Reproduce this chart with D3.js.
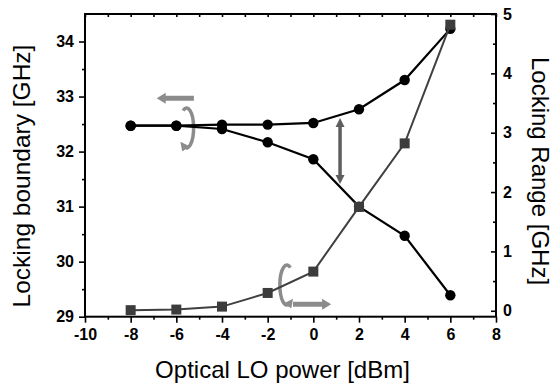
<!DOCTYPE html>
<html><head><meta charset="utf-8">
<script src="https://cdn.jsdelivr.net/npm/d3@7"></script>
<style>body{margin:0;background:#fff}svg{display:block}text{font-family:"Liberation Sans",Arial,sans-serif}</style>
</head><body><svg id="c" width="557" height="385"></svg>
<script>
const power = [-8, -6, -4, -2, 0, 2, 4, 6];
const upperBoundary = [32.47, 32.47, 32.49, 32.49, 32.52, 32.77, 33.30, 34.23];
const lowerBoundary = [32.47, 32.47, 32.41, 32.17, 31.86, 31.00, 30.47, 29.39];
const lockingRange = [0.01, 0.02, 0.07, 0.30, 0.66, 1.75, 2.82, 4.82];
const xTicks = [-10, -8, -6, -4, -2, 0, 2, 4, 6, 8];
const xMinor = [-9, -7, -5, -3, -1, 1, 3, 5, 7];
const yLeftTicks = [29, 30, 31, 32, 33, 34];
const yLeftMinor = [29.5, 30.5, 31.5, 32.5, 33.5];
const yRightTicks = [0, 1, 2, 3, 4, 5];
const yRightMinor = [0.5, 1.5, 2.5, 3.5, 4.5];
const xTitle = "Optical LO power [dBm]";
const yLeftTitle = "Locking boundary [GHz]";
const yRightTitle = "Locking Range [GHz]";

const svg = d3.select('#c');
const L = 85, R = 496, T = 14, B = 316.7;
const x = d3.scaleLinear().domain([-10, 8]).range([L, R]);
const yL = d3.scaleLinear().domain([29, 34.5]).range([B, T]);
const yR = d3.scaleLinear().domain([-0.1, 5]).range([B, T]);
const fmt = d => String(d);

function styleAxis(g) {
  g.attr('font-family', '"Liberation Sans", Arial, sans-serif').attr('font-size', 16).attr('font-weight', 'bold');
  g.select('.domain').remove();
  g.selectAll('.tick line').attr('stroke', '#000').attr('stroke-width', 1.6);
  g.selectAll('.tick text').attr('fill', '#000');
}
// bottom
svg.append('g').attr('transform', `translate(0,${B})`)
  .call(d3.axisBottom(x).tickValues(xTicks).tickSize(6).tickPadding(6).tickFormat(fmt)).call(styleAxis);
svg.append('g').attr('transform', `translate(0,${B})`)
  .call(d3.axisBottom(x).tickValues(xMinor).tickSize(3).tickFormat('')).call(styleAxis);
// top
svg.append('g').attr('transform', `translate(0,${T})`)
  .call(d3.axisTop(x).tickValues(xTicks.concat(xMinor)).tickSize(-3).tickFormat('')).call(styleAxis);
// left
svg.append('g').attr('transform', `translate(${L},0)`)
  .call(d3.axisLeft(yL).tickValues(yLeftTicks).tickSize(6).tickPadding(5).tickFormat(fmt)).call(styleAxis);
svg.append('g').attr('transform', `translate(${L},0)`)
  .call(d3.axisLeft(yL).tickValues(yLeftMinor).tickSize(3).tickFormat('')).call(styleAxis);
// right
svg.append('g').attr('transform', `translate(${R},0)`)
  .call(d3.axisRight(yR).tickValues(yRightTicks).tickSize(-5).tickPadding(7).tickFormat(fmt)).call(styleAxis);
svg.append('g').attr('transform', `translate(${R},0)`)
  .call(d3.axisRight(yR).tickValues(yRightMinor).tickSize(-3).tickFormat('')).call(styleAxis);

// frame
svg.append('rect').attr('x', L).attr('y', T).attr('width', R - L).attr('height', B - T)
  .attr('fill', 'none').attr('stroke', '#000').attr('stroke-width', 2);

// titles
svg.append('text').attr('x', (L + R) / 2 - 8).attr('y', 378).attr('text-anchor', 'middle')
  .attr('font-size', 24).text(xTitle);
svg.append('text').attr('transform', `translate(30,${176}) rotate(-90)`).attr('text-anchor', 'middle')
  .attr('font-size', 24.5).text(yLeftTitle);
svg.append('text').attr('transform', `translate(532,${171}) rotate(90)`).attr('text-anchor', 'middle')
  .attr('font-size', 24).text(yRightTitle);

// annotations (positions in data units)
const annoGrey = '#8c8c8c';
function arrowPath(x1, y1, x2, y2, w, hl, hw, both) {
  const dx = x2 - x1, dy = y2 - y1, len = Math.hypot(dx, dy);
  const ux = dx / len, uy = dy / len, px = -uy, py = ux;
  const s = both ? hl : 0, e = len - hl;
  const P = (t, o) => [x1 + ux * t + px * o, y1 + uy * t + py * o];
  const pts = [];
  if (both) { pts.push(P(0, 0), P(s, hw / 2), P(s, w / 2)); } else { pts.push(P(0, w / 2)); }
  pts.push(P(e, w / 2), P(e, hw / 2), P(len, 0), P(e, -hw / 2), P(e, -w / 2));
  if (both) { pts.push(P(s, -w / 2), P(s, -hw / 2)); } else { pts.push(P(0, -w / 2)); }
  return 'M' + pts.map(p => p.join(',')).join('L') + 'Z';
}
svg.append('path').attr('d', arrowPath(x(-5.23), yL(32.97), x(-6.86), yL(32.97), 5, 9, 11, false)).attr('fill', annoGrey);
svg.append('path').attr('d', arrowPath(x(-0.89), yR(0.109), x(0.78), yR(0.109), 5, 9, 11, false)).attr('fill', annoGrey);
svg.append('path').attr('d', arrowPath(x(1.17), yL(31.41), x(1.17), yL(32.61), 3.5, 9, 9, true)).attr('fill', '#5e5e5e');

// curled arrows
const defs = svg.append('defs');
defs.append('marker').attr('id', 'ch').attr('viewBox', '0 0 10 10').attr('refX', 4).attr('refY', 5)
  .attr('markerWidth', 9).attr('markerHeight', 9).attr('markerUnits', 'userSpaceOnUse').attr('orient', 'auto')
  .append('path').attr('d', 'M0,0L10,5L0,10Z').attr('fill', annoGrey);
function curl(cx, cy, rx, ry, a1, a2, sweep) {
  const r = a => a * Math.PI / 180;
  const p1 = [cx + rx * Math.cos(r(a1)), cy + ry * Math.sin(r(a1))];
  const p2 = [cx + rx * Math.cos(r(a2)), cy + ry * Math.sin(r(a2))];
  return `M${p1}A${rx},${ry} 0 1 ${sweep} ${p2}`;
}
svg.append('path').attr('d', curl(x(-5.55), yL(32.43), 7, 20, -120, 115, 1))
  .attr('fill', 'none').attr('stroke', annoGrey).attr('stroke-width', 3.5).attr('marker-end', 'url(#ch)');
svg.append('path').attr('d', curl(x(-1.16), yR(0.434), 7, 20, -60, 65, 0))
  .attr('fill', 'none').attr('stroke', annoGrey).attr('stroke-width', 3.5).attr('marker-end', 'url(#ch)');

// data
const idx = d3.range(power.length);
const lineL = arr => d3.line().x(i => x(power[i])).y(i => yL(arr[i]))(idx);
svg.append('path').attr('d', lineL(upperBoundary)).attr('fill', 'none').attr('stroke', '#000').attr('stroke-width', 2.2);
svg.append('path').attr('d', lineL(lowerBoundary)).attr('fill', 'none').attr('stroke', '#000').attr('stroke-width', 2.2);
[upperBoundary, lowerBoundary].forEach(arr => {
  svg.append('g').selectAll('circle').data(idx).join('circle')
    .attr('cx', i => x(power[i])).attr('cy', i => yL(arr[i])).attr('r', 5.2).attr('fill', '#000');
});
const lineR = d3.line().x(i => x(power[i])).y(i => yR(lockingRange[i]))(idx);
svg.append('path').attr('d', lineR).attr('fill', 'none').attr('stroke', '#404040').attr('stroke-width', 2);
svg.append('g').selectAll('rect').data(idx).join('rect')
  .attr('x', i => x(power[i]) - 5).attr('y', i => yR(lockingRange[i]) - 5).attr('width', 10).attr('height', 10)
  .attr('fill', '#3c3c3c');
</script></body></html>
